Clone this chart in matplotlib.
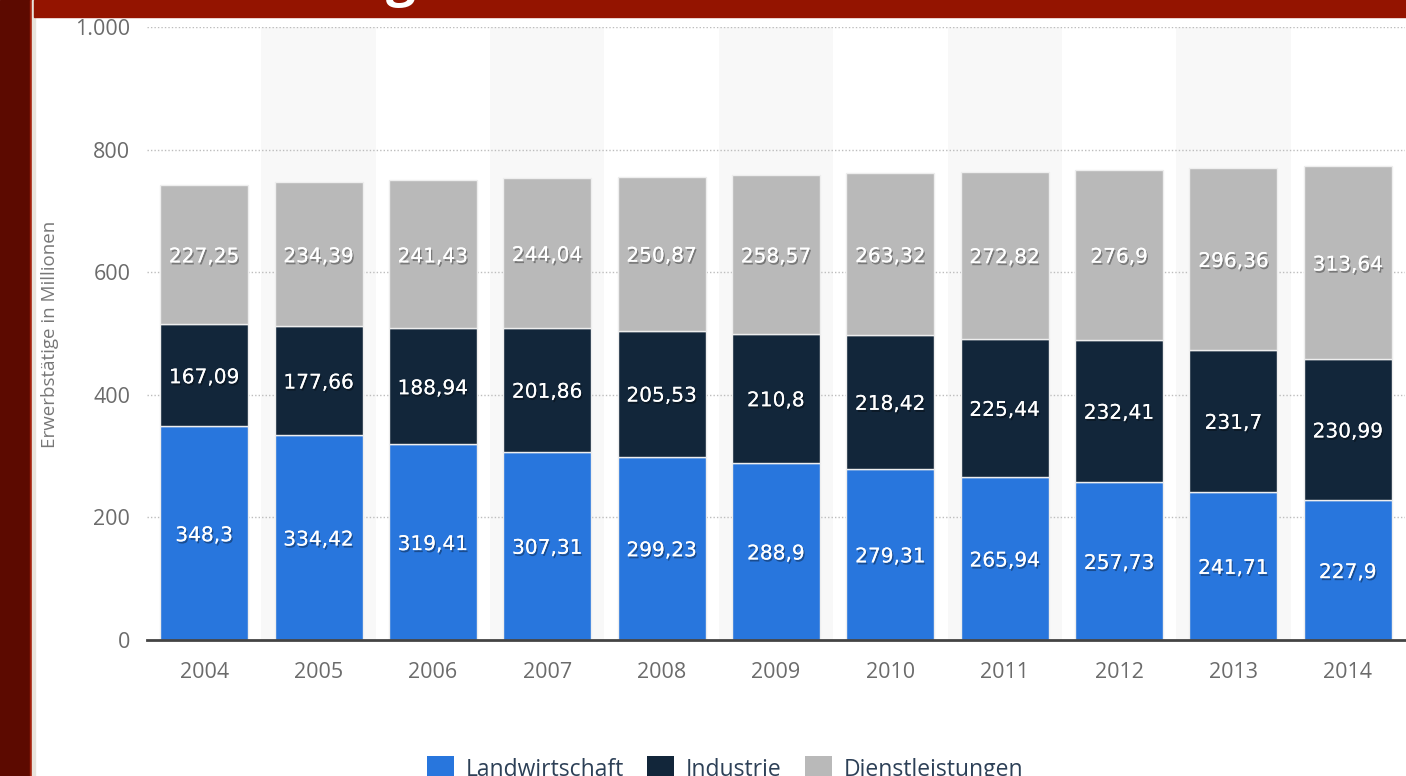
import matplotlib
matplotlib.use("Agg")
import matplotlib.pyplot as plt
import matplotlib.patheffects as pe
from matplotlib.patches import Rectangle
import numpy as np

years = ["2004", "2005", "2006", "2007", "2008", "2009", "2010", "2011", "2012", "2013", "2014"]
landwirtschaft = [348.3, 334.42, 319.41, 307.31, 299.23, 288.9, 279.31, 265.94, 257.73, 241.71, 227.9]
industrie = [167.09, 177.66, 188.94, 201.86, 205.53, 210.8, 218.42, 225.44, 232.41, 231.7, 230.99]
dienstleistungen = [227.25, 234.39, 241.43, 244.04, 250.87, 258.57, 263.32, 272.82, 276.9, 296.36, 313.64]
series_names = ["Landwirtschaft", "Industrie", "Dienstleistungen"]
yticks = [0, 200, 400, 600, 800, 1000]
ytick_labels = ["0", "200", "400", "600", "800", "1.000"]

colors = ["#2876dd", "#12263a", "#b9b9b9"]

W, H = 1406, 776
fig = plt.figure(figsize=(W / 100, H / 100), dpi=100)
fig.patch.set_facecolor("white")

# frame decorations
fig.patches.append(Rectangle((0, 0), 30 / W, 1, transform=fig.transFigure, color="#5c0a00", zorder=0))
fig.patches.append(Rectangle((30 / W, 0), 2 / W, 1, transform=fig.transFigure, color="#a3200c", zorder=0))
fig.patches.append(Rectangle((32 / W, 0), 3 / W, 1, transform=fig.transFigure, color="#e8e4dc", zorder=0))
fig.patches.append(Rectangle((34 / W, 1 - 17 / H), 1, 17 / H, transform=fig.transFigure, color="#941400", zorder=0))
fig.text(401 / W, 1 - 8 / H, "g", color="white", fontsize=38, fontweight="bold",
         family="Open Sans", ha="center", va="bottom")

ax = fig.add_axes([147 / W, 1 - 640 / H, (1405 - 147) / W, (640 - 27) / H])
ax.set_facecolor("white")
x = np.arange(len(years))

# alternating bands
for i in x:
    if i % 2 == 1:
        ax.axvspan(i - 0.5, i + 0.5, color="#f8f8f8", zorder=0, lw=0)

width = 0.77
bottom = np.zeros(len(years))
for vals, col in zip([landwirtschaft, industrie, dienstleistungen], colors):
    v = np.array(vals)
    ax.bar(x, v, width, bottom=bottom, color=col, edgecolor="#eeeeee", linewidth=1.0, zorder=3)
    for xi, b, val in zip(x, bottom, v):
        lbl = ("%g" % val).replace(".", ",")
        ax.text(xi, b + val / 2 - 4, lbl, ha="center", va="center", color="white",
                fontsize=14.5, family="DejaVu Sans", zorder=5,
                path_effects=[pe.withSimplePatchShadow(offset=(1, -1.5), shadow_rgbFace="black", alpha=0.35),
                              pe.Normal()])
    bottom = bottom + v

ax.set_xlim(-0.5, len(years) - 0.5)
ax.set_ylim(0, 1000)
ax.set_yticks(yticks)
ax.set_yticklabels(ytick_labels)
ax.set_xticks(x)
ax.set_xticklabels(years)
for y in yticks[1:]:
    ax.axhline(y, color="#bdbdbd", lw=1.0, ls=(0, (1, 1.5)), zorder=1)
for s in ["top", "right", "left"]:
    ax.spines[s].set_visible(False)
ax.spines["bottom"].set_color("#444444")
ax.spines["bottom"].set_linewidth(2)
ax.spines["bottom"].set_zorder(6)
ax.tick_params(axis="both", length=0, labelcolor="#6b6b6b", labelsize=15.5)
ax.tick_params(axis="y", pad=12)
ax.tick_params(axis="x", pad=16)
for t in ax.get_xticklabels() + ax.get_yticklabels():
    t.set_family("Open Sans")

fig.text(50 / W, 1 - 334 / H, "Erwerbstätige in Millionen", rotation=90, ha="center", va="center",
         fontsize=13.5, color="#777777", family="Open Sans")

handles = [Rectangle((0, 0), 1, 1, facecolor=c, edgecolor="none") for c in colors]
leg = fig.legend(handles, series_names, loc="center", bbox_to_anchor=(725 / W, 1 - 769 / H),
                 ncol=3, frameon=False, handlelength=1.2, handleheight=1.2,
                 handletextpad=0.5, columnspacing=1.0, prop={"family": "Open Sans", "size": 16.5})
for t in leg.get_texts():
    t.set_color("#2d4057")

fig.savefig("out.png", dpi=100)
